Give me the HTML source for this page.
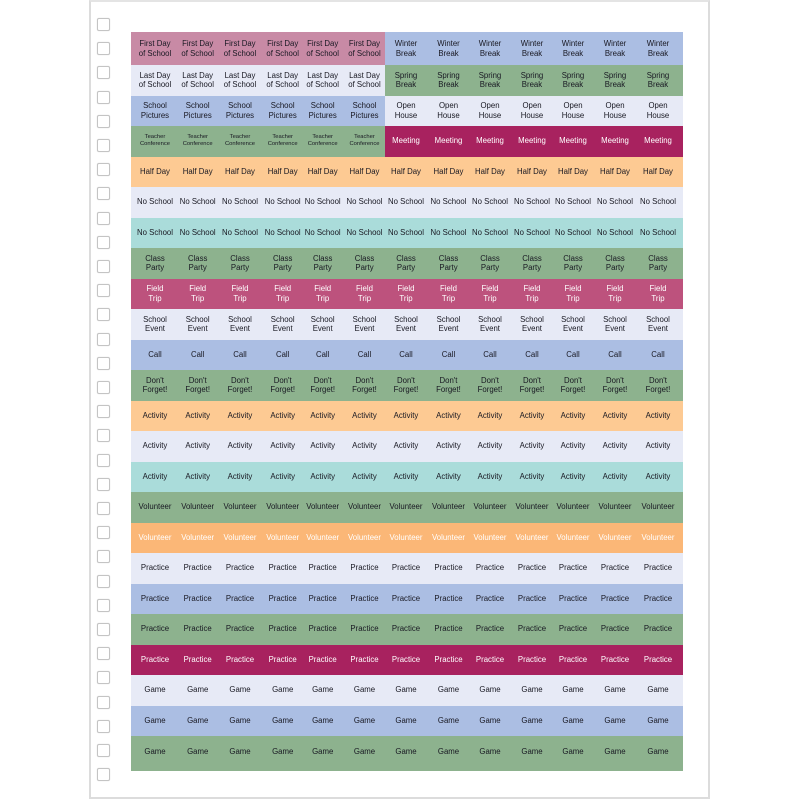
<!DOCTYPE html>
<html><head><meta charset="utf-8">
<style>
html,body{margin:0;padding:0;background:#fff;}
body{width:800px;height:800px;position:relative;overflow:hidden;font-family:"Liberation Sans",sans-serif;}
.page{position:absolute;left:89px;top:0px;width:617px;height:795px;border:2px solid #dcdcdc;border-top-color:#e4e4e4;background:#fff;}
.hole{position:absolute;left:97px;width:11px;height:11px;border:1.6px solid #c4c4c4;border-radius:2px;background:#fff;box-shadow:0 0 1px rgba(0,0,0,0.15);}
.r{position:absolute;left:131px;width:552px;}
.r span{position:absolute;top:0;height:100%;width:42px;display:flex;align-items:center;justify-content:center;text-align:center;font-size:7.8px;line-height:9.7px;color:#181822;white-space:nowrap;}
.r span:nth-child(1){left:3px}
.r span:nth-child(2){left:45.7px}
.r span:nth-child(3){left:88px}
.r span:nth-child(4){left:130.7px}
.r span:nth-child(5){left:170.7px}
.r span:nth-child(6){left:212.5px}
.r span:nth-child(7){left:254px}
.r span:nth-child(8){left:296.5px}
.r span:nth-child(9){left:338px}
.r span:nth-child(10){left:380px}
.r span:nth-child(11){left:421px}
.r span:nth-child(12){left:463px}
.r span:nth-child(13){left:506px}
.w span{color:#fff;}
.r span.w{color:#fff;}
.sm span.s{font-size:5.8px;line-height:7.4px;}
.last span{height:31px;}
</style></head><body>
<div class="page"></div>
<div class="hole" style="top:18px"></div>
<div class="hole" style="top:42.2px"></div>
<div class="hole" style="top:66.4px"></div>
<div class="hole" style="top:90.6px"></div>
<div class="hole" style="top:114.8px"></div>
<div class="hole" style="top:139px"></div>
<div class="hole" style="top:163.2px"></div>
<div class="hole" style="top:187.4px"></div>
<div class="hole" style="top:211.6px"></div>
<div class="hole" style="top:235.8px"></div>
<div class="hole" style="top:260px"></div>
<div class="hole" style="top:284.2px"></div>
<div class="hole" style="top:308.4px"></div>
<div class="hole" style="top:332.6px"></div>
<div class="hole" style="top:356.8px"></div>
<div class="hole" style="top:381px"></div>
<div class="hole" style="top:405.2px"></div>
<div class="hole" style="top:429.4px"></div>
<div class="hole" style="top:453.6px"></div>
<div class="hole" style="top:477.8px"></div>
<div class="hole" style="top:502px"></div>
<div class="hole" style="top:526.2px"></div>
<div class="hole" style="top:550.4px"></div>
<div class="hole" style="top:574.6px"></div>
<div class="hole" style="top:598.8px"></div>
<div class="hole" style="top:623px"></div>
<div class="hole" style="top:647.2px"></div>
<div class="hole" style="top:671.4px"></div>
<div class="hole" style="top:695.6px"></div>
<div class="hole" style="top:719.8px"></div>
<div class="hole" style="top:744px"></div>
<div class="hole" style="top:768.2px"></div>

<div class="r" style="top:32px;height:33px;background:linear-gradient(90deg,#c88aa5 0,#c88aa5 254px,#abbee3 254px,#abbee3 552px);">
<span>First Day<br>of School</span><span>First Day<br>of School</span><span>First Day<br>of School</span><span>First Day<br>of School</span><span>First Day<br>of School</span><span>First Day<br>of School</span><span>Winter<br>Break</span><span>Winter<br>Break</span><span>Winter<br>Break</span><span>Winter<br>Break</span><span>Winter<br>Break</span><span>Winter<br>Break</span><span>Winter<br>Break</span>
</div>
<div class="r" style="top:65px;height:30.5px;background:linear-gradient(90deg,#e7eaf6 0,#e7eaf6 254px,#8db28e 254px,#8db28e 552px);">
<span>Last Day<br>of School</span><span>Last Day<br>of School</span><span>Last Day<br>of School</span><span>Last Day<br>of School</span><span>Last Day<br>of School</span><span>Last Day<br>of School</span><span>Spring<br>Break</span><span>Spring<br>Break</span><span>Spring<br>Break</span><span>Spring<br>Break</span><span>Spring<br>Break</span><span>Spring<br>Break</span><span>Spring<br>Break</span>
</div>
<div class="r" style="top:95.5px;height:30.5px;background:linear-gradient(90deg,#abbee3 0,#abbee3 254px,#e7eaf6 254px,#e7eaf6 552px);">
<span>School<br>Pictures</span><span>School<br>Pictures</span><span>School<br>Pictures</span><span>School<br>Pictures</span><span>School<br>Pictures</span><span>School<br>Pictures</span><span>Open<br>House</span><span>Open<br>House</span><span>Open<br>House</span><span>Open<br>House</span><span>Open<br>House</span><span>Open<br>House</span><span>Open<br>House</span>
</div>
<div class="r sm" style="top:126px;height:30.5px;background:linear-gradient(90deg,#8db28e 0,#8db28e 254px,#a8225f 254px,#a8225f 552px);">
<span class="s">Teacher<br>Conference</span><span class="s">Teacher<br>Conference</span><span class="s">Teacher<br>Conference</span><span class="s">Teacher<br>Conference</span><span class="s">Teacher<br>Conference</span><span class="s">Teacher<br>Conference</span><span class="w">Meeting</span><span class="w">Meeting</span><span class="w">Meeting</span><span class="w">Meeting</span><span class="w">Meeting</span><span class="w">Meeting</span><span class="w">Meeting</span>
</div>
<div class="r" style="top:156.5px;height:30.5px;background:#fdca93;">
<span>Half Day</span><span>Half Day</span><span>Half Day</span><span>Half Day</span><span>Half Day</span><span>Half Day</span><span>Half Day</span><span>Half Day</span><span>Half Day</span><span>Half Day</span><span>Half Day</span><span>Half Day</span><span>Half Day</span>
</div>
<div class="r" style="top:187px;height:30.5px;background:#e7eaf6;">
<span>No School</span><span>No School</span><span>No School</span><span>No School</span><span>No School</span><span>No School</span><span>No School</span><span>No School</span><span>No School</span><span>No School</span><span>No School</span><span>No School</span><span>No School</span>
</div>
<div class="r" style="top:217.5px;height:30.5px;background:#aadcda;">
<span>No School</span><span>No School</span><span>No School</span><span>No School</span><span>No School</span><span>No School</span><span>No School</span><span>No School</span><span>No School</span><span>No School</span><span>No School</span><span>No School</span><span>No School</span>
</div>
<div class="r" style="top:248px;height:30.5px;background:#8db28e;">
<span>Class<br>Party</span><span>Class<br>Party</span><span>Class<br>Party</span><span>Class<br>Party</span><span>Class<br>Party</span><span>Class<br>Party</span><span>Class<br>Party</span><span>Class<br>Party</span><span>Class<br>Party</span><span>Class<br>Party</span><span>Class<br>Party</span><span>Class<br>Party</span><span>Class<br>Party</span>
</div>
<div class="r w" style="top:278.5px;height:30.5px;background:#bd527d;">
<span>Field<br>Trip</span><span>Field<br>Trip</span><span>Field<br>Trip</span><span>Field<br>Trip</span><span>Field<br>Trip</span><span>Field<br>Trip</span><span>Field<br>Trip</span><span>Field<br>Trip</span><span>Field<br>Trip</span><span>Field<br>Trip</span><span>Field<br>Trip</span><span>Field<br>Trip</span><span>Field<br>Trip</span>
</div>
<div class="r" style="top:309px;height:30.5px;background:#e7eaf6;">
<span>School<br>Event</span><span>School<br>Event</span><span>School<br>Event</span><span>School<br>Event</span><span>School<br>Event</span><span>School<br>Event</span><span>School<br>Event</span><span>School<br>Event</span><span>School<br>Event</span><span>School<br>Event</span><span>School<br>Event</span><span>School<br>Event</span><span>School<br>Event</span>
</div>
<div class="r" style="top:339.5px;height:30.5px;background:#abbee3;">
<span>Call</span><span>Call</span><span>Call</span><span>Call</span><span>Call</span><span>Call</span><span>Call</span><span>Call</span><span>Call</span><span>Call</span><span>Call</span><span>Call</span><span>Call</span>
</div>
<div class="r" style="top:370px;height:30.5px;background:#8db28e;">
<span>Don't<br>Forget!</span><span>Don't<br>Forget!</span><span>Don't<br>Forget!</span><span>Don't<br>Forget!</span><span>Don't<br>Forget!</span><span>Don't<br>Forget!</span><span>Don't<br>Forget!</span><span>Don't<br>Forget!</span><span>Don't<br>Forget!</span><span>Don't<br>Forget!</span><span>Don't<br>Forget!</span><span>Don't<br>Forget!</span><span>Don't<br>Forget!</span>
</div>
<div class="r" style="top:400.5px;height:30.5px;background:#fdca93;">
<span>Activity</span><span>Activity</span><span>Activity</span><span>Activity</span><span>Activity</span><span>Activity</span><span>Activity</span><span>Activity</span><span>Activity</span><span>Activity</span><span>Activity</span><span>Activity</span><span>Activity</span>
</div>
<div class="r" style="top:431px;height:30.5px;background:#e7eaf6;">
<span>Activity</span><span>Activity</span><span>Activity</span><span>Activity</span><span>Activity</span><span>Activity</span><span>Activity</span><span>Activity</span><span>Activity</span><span>Activity</span><span>Activity</span><span>Activity</span><span>Activity</span>
</div>
<div class="r" style="top:461.5px;height:30.5px;background:#aadcda;">
<span>Activity</span><span>Activity</span><span>Activity</span><span>Activity</span><span>Activity</span><span>Activity</span><span>Activity</span><span>Activity</span><span>Activity</span><span>Activity</span><span>Activity</span><span>Activity</span><span>Activity</span>
</div>
<div class="r" style="top:492px;height:30.5px;background:#8db28e;">
<span>Volunteer</span><span>Volunteer</span><span>Volunteer</span><span>Volunteer</span><span>Volunteer</span><span>Volunteer</span><span>Volunteer</span><span>Volunteer</span><span>Volunteer</span><span>Volunteer</span><span>Volunteer</span><span>Volunteer</span><span>Volunteer</span>
</div>
<div class="r w" style="top:522.5px;height:30.5px;background:#fbb777;">
<span>Volunteer</span><span>Volunteer</span><span>Volunteer</span><span>Volunteer</span><span>Volunteer</span><span>Volunteer</span><span>Volunteer</span><span>Volunteer</span><span>Volunteer</span><span>Volunteer</span><span>Volunteer</span><span>Volunteer</span><span>Volunteer</span>
</div>
<div class="r" style="top:553px;height:30.5px;background:#e7eaf6;">
<span>Practice</span><span>Practice</span><span>Practice</span><span>Practice</span><span>Practice</span><span>Practice</span><span>Practice</span><span>Practice</span><span>Practice</span><span>Practice</span><span>Practice</span><span>Practice</span><span>Practice</span>
</div>
<div class="r" style="top:583.5px;height:30.5px;background:#abbee3;">
<span>Practice</span><span>Practice</span><span>Practice</span><span>Practice</span><span>Practice</span><span>Practice</span><span>Practice</span><span>Practice</span><span>Practice</span><span>Practice</span><span>Practice</span><span>Practice</span><span>Practice</span>
</div>
<div class="r" style="top:614px;height:30.5px;background:#8db28e;">
<span>Practice</span><span>Practice</span><span>Practice</span><span>Practice</span><span>Practice</span><span>Practice</span><span>Practice</span><span>Practice</span><span>Practice</span><span>Practice</span><span>Practice</span><span>Practice</span><span>Practice</span>
</div>
<div class="r w" style="top:644.5px;height:30.5px;background:#a8225f;">
<span>Practice</span><span>Practice</span><span>Practice</span><span>Practice</span><span>Practice</span><span>Practice</span><span>Practice</span><span>Practice</span><span>Practice</span><span>Practice</span><span>Practice</span><span>Practice</span><span>Practice</span>
</div>
<div class="r" style="top:675px;height:30.5px;background:#e7eaf6;">
<span>Game</span><span>Game</span><span>Game</span><span>Game</span><span>Game</span><span>Game</span><span>Game</span><span>Game</span><span>Game</span><span>Game</span><span>Game</span><span>Game</span><span>Game</span>
</div>
<div class="r" style="top:705.5px;height:30.5px;background:#abbee3;">
<span>Game</span><span>Game</span><span>Game</span><span>Game</span><span>Game</span><span>Game</span><span>Game</span><span>Game</span><span>Game</span><span>Game</span><span>Game</span><span>Game</span><span>Game</span>
</div>
<div class="r last" style="top:736px;height:35px;background:#8db28e;">
<span>Game</span><span>Game</span><span>Game</span><span>Game</span><span>Game</span><span>Game</span><span>Game</span><span>Game</span><span>Game</span><span>Game</span><span>Game</span><span>Game</span><span>Game</span>
</div>
</body></html>
